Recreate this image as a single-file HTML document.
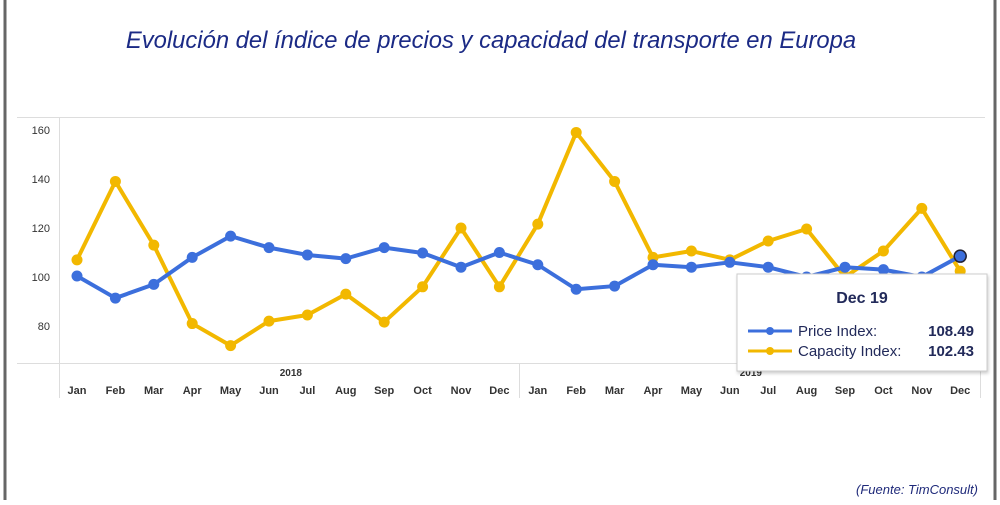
<!DOCTYPE html><html><head><meta charset="utf-8"><style>
body{margin:0;width:1000px;height:500px;background:#fff;overflow:hidden;font-family:"Liberation Sans",sans-serif}
</style></head><body>
<svg width="1000" height="500" xmlns="http://www.w3.org/2000/svg" font-family="Liberation Sans, sans-serif">
<defs><filter id="sh" x="-5%" y="-5%" width="115%" height="120%"><feDropShadow dx="1" dy="2" stdDeviation="1.5" flood-opacity="0.2"/></filter></defs>
<rect x="5" y="-5" width="990" height="520" fill="none" stroke="#666" stroke-width="3"/>
<text x="491" y="48" text-anchor="middle" font-size="23.8" font-style="italic" fill="#1b2a85">Evolución del índice de precios y capacidad del transporte en Europa</text>
<line x1="17" y1="117.5" x2="985" y2="117.5" stroke="#ddd"/>
<line x1="17" y1="363.5" x2="985" y2="363.5" stroke="#ddd"/>
<line x1="59.5" y1="117" x2="59.5" y2="398" stroke="#ddd"/>
<line x1="519.5" y1="363" x2="519.5" y2="398" stroke="#ddd"/>
<line x1="980.5" y1="363" x2="980.5" y2="398" stroke="#ddd"/>
<g font-size="11" fill="#333" text-anchor="end">
<text x="50" y="134">160</text><text x="50" y="183">140</text><text x="50" y="232">120</text><text x="50" y="281">100</text><text x="50" y="330">80</text>
</g>
<text x="302" y="376" font-size="10" font-weight="bold" fill="#333" text-anchor="end">2018</text>
<text x="762" y="376" font-size="10" font-weight="bold" fill="#333" text-anchor="end">2019</text>
<g id="m" font-size="11" font-weight="bold" fill="#333" text-anchor="middle"></g>
<polyline id="cap" fill="none" stroke="#f2b800" stroke-width="4" stroke-linejoin="round"/>
<polyline id="pri" fill="none" stroke="#3c6fdc" stroke-width="4" stroke-linejoin="round"/>
<g id="dots"></g>
<rect x="737" y="274" width="250" height="97" fill="#fff" stroke="#ccc" filter="url(#sh)"/>
<text x="862" y="303" font-size="16" font-weight="bold" fill="#222a5a" text-anchor="middle">Dec 19</text>
<line x1="748" y1="331" x2="792" y2="331" stroke="#3c6fdc" stroke-width="3"/><circle cx="770" cy="331" r="4" fill="#3c6fdc"/>
<line x1="748" y1="351" x2="792" y2="351" stroke="#f2b800" stroke-width="3"/><circle cx="770" cy="351" r="4" fill="#f2b800"/>
<text x="798" y="336" font-size="15" fill="#222a5a">Price Index:</text>
<text x="974" y="336" font-size="15" font-weight="bold" fill="#222a5a" text-anchor="end">108.49</text>
<text x="798" y="356" font-size="15" fill="#222a5a">Capacity Index:</text>
<text x="974" y="356" font-size="15" font-weight="bold" fill="#222a5a" text-anchor="end">102.43</text>
<text x="978" y="494" font-size="13" font-style="italic" fill="#1f2a7a" text-anchor="end">(Fuente: TimConsult)</text>
</svg>
<script>
var P=[100.4,91.4,97,108,116.7,112,109,107.5,112,109.8,104,110,105,95,96.3,105,104,106,104,100,104,103,100,108.5];
var C=[107,139,113,81,72,82,84.5,93,81.6,96,120,96,121.6,159,139,108,110.6,107,114.7,119.6,100,110.6,128,102.4];
var M=["Jan","Feb","Mar","Apr","May","Jun","Jul","Aug","Sep","Oct","Nov","Dec"];
function X(i){return 77+i*38.4}function Y(v){return 130+(160-v)*2.45}
var ns="http://www.w3.org/2000/svg",m=document.getElementById("m"),d=document.getElementById("dots");
var pp=[],cp=[];
for(var i=0;i<24;i++){pp.push(X(i)+","+Y(P[i]));cp.push(X(i)+","+Y(C[i]));
var t=document.createElementNS(ns,"text");t.setAttribute("x",X(i));t.setAttribute("y",394);t.textContent=M[i%12];m.appendChild(t);}
document.getElementById("pri").setAttribute("points",pp.join(" "));
document.getElementById("cap").setAttribute("points",cp.join(" "));
for(var i=0;i<24;i++){[[C,"#f2b800"],[P,"#3c6fdc"]].forEach(function(s){var c=document.createElementNS(ns,"circle");c.setAttribute("cx",X(i));c.setAttribute("cy",Y(s[0][i]));c.setAttribute("r",i==23&&s[1]=="#3c6fdc"?6:5.5);c.setAttribute("fill",s[1]);if(i==23&&s[1]=="#3c6fdc"){c.setAttribute("stroke","#223");c.setAttribute("stroke-width","1.5")}d.appendChild(c);});}
</script>
</body></html>
